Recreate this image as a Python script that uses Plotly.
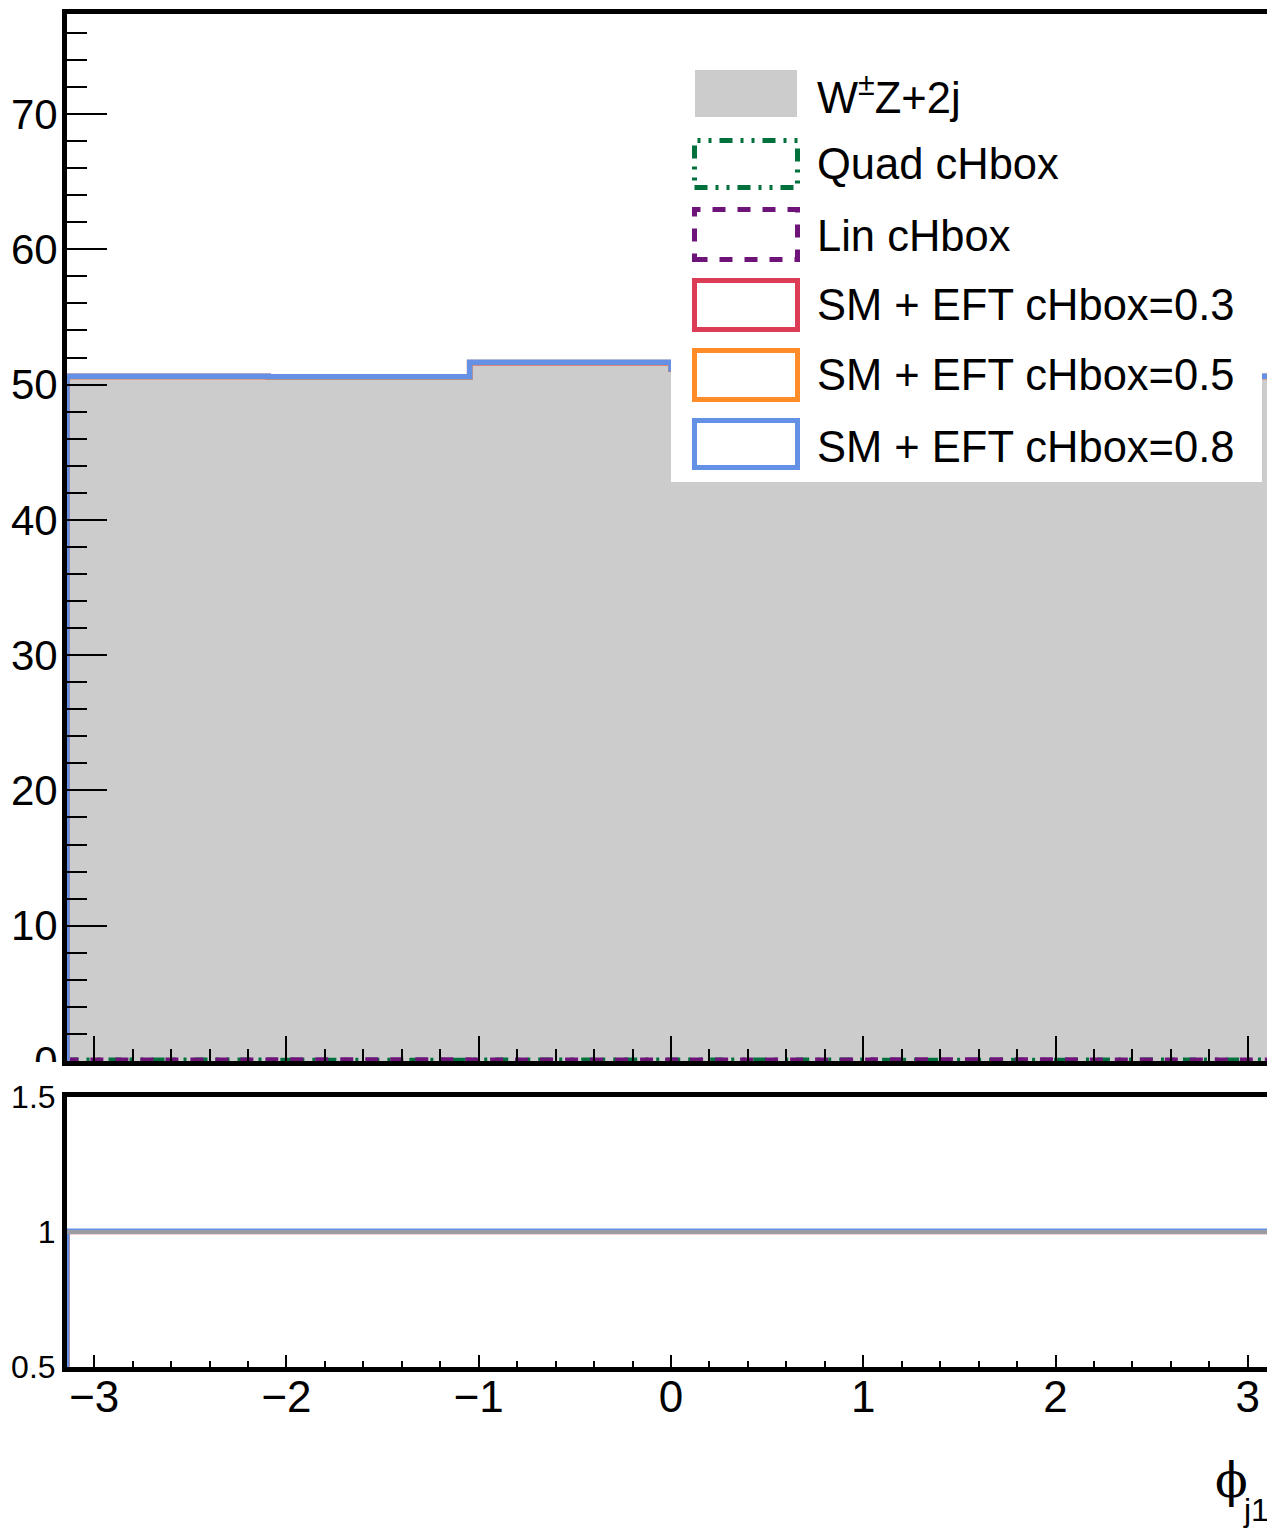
import numpy as np
import plotly.graph_objects as go

# ---------------- data ----------------
bin_edges = list(np.linspace(-np.pi, np.pi, 7))
sm_wz2j = [50.45, 50.40, 51.48, 51.00, 50.70, 50.45]
quad_chbox = [0.11, 0.10, 0.11, 0.11, 0.10, 0.11]
lin_chbox = [0.12, 0.13, 0.12, 0.12, 0.13, 0.12]
eft_03 = [50.59, 50.54, 51.62, 51.14, 50.84, 50.59]
eft_05 = [50.60, 50.55, 51.63, 51.15, 50.85, 50.60]
eft_08 = [50.62, 50.57, 51.65, 51.17, 50.87, 50.62]
ratio_03 = [1.0010, 1.0010, 1.0010, 1.0010, 1.0010, 1.0010]
ratio_05 = [1.0017, 1.0018, 1.0017, 1.0017, 1.0018, 1.0017]
ratio_08 = [1.0033, 1.0034, 1.0033, 1.0033, 1.0034, 1.0033]

legend_labels = ["W<sup>±</sup>Z+2j", "Quad cHbox", "Lin cHbox",
                 "SM + EFT cHbox=0.3", "SM + EFT cHbox=0.5", "SM + EFT cHbox=0.8"]

# ---------------- style ----------------
C_GRAY = "#cccccc"
C_GREEN = "#00703c"
C_PURPLE = "#6e1478"
C_RED = "#dc3c55"
C_ORANGE = "#ff8c28"
C_BLUE = "#6491e6"
FONT = "Liberation Sans"

OFF = 8  # page body margin of the browser
W, H = 1275 - OFF, 1539 - 2 * OFF
L, R, T, B = 67 - OFF, 0, 14 - OFF, 164
PW, PH = W - L - R, H - T - B


def px_x(px):
    return (px - OFF - L) / PW


def px_y(py):
    return (H - B - (py - OFF)) / PH


def step(vals, base):
    xs = [bin_edges[0]] + bin_edges[:-1] + [bin_edges[-1], bin_edges[-1]]
    ys = [base] + list(vals) + [vals[-1], base]
    return xs, ys


fig = go.Figure()

# top panel
fig.add_trace(go.Scatter(x=bin_edges, y=sm_wz2j + [sm_wz2j[-1]], mode="lines",
                         line=dict(shape="hv", width=0, color=C_GRAY),
                         fill="tozeroy", fillcolor=C_GRAY, xaxis="x", yaxis="y"))
for vals, col, dash, w in [(quad_chbox, C_GREEN, "13px,8px,3px,8px,3px,8px", 4),
                           (lin_chbox, C_PURPLE, "13px,12px", 4),
                           (eft_03, C_RED, "solid", 5.5),
                           (eft_05, C_ORANGE, "solid", 5.5),
                           (eft_08, C_BLUE, "solid", 5.5)]:
    xs, ys = step(vals, 0)
    fig.add_trace(go.Scatter(x=xs, y=ys, mode="lines",
                             line=dict(shape="hv", width=w, color=col, dash=dash),
                             xaxis="x", yaxis="y"))

# ratio panel
for vals, col in [(ratio_03, C_RED), (ratio_05, C_ORANGE), (ratio_08, C_BLUE)]:
    xs, ys = step(vals, 0.5)
    fig.add_trace(go.Scatter(x=xs, y=ys, mode="lines",
                             line=dict(shape="hv", width=5, color=col),
                             xaxis="x2", yaxis="y2"))

top_lo = px_y(1061)
bot_hi = px_y(1097)
y_top_max = (1061 - 14) * 70 / (1061 - 114)

axis_common = dict(showline=True, linecolor="black", linewidth=5, showgrid=False,
                   zeroline=False, ticks="inside", tickcolor="black", tickwidth=2,
                   automargin=False,
                   tickfont=dict(family=FONT, size=44, color="black"))

fig.update_layout(
    width=W, height=H, margin=dict(l=L, r=R, t=T, b=B, pad=0, autoexpand=False),
    paper_bgcolor="white", plot_bgcolor="white", showlegend=False,
    xaxis=dict(axis_common, domain=[0, 1], anchor="y", range=[-np.pi, np.pi],
               dtick=1, tick0=0, ticklen=25, showticklabels=False, mirror=True,
               minor=dict(dtick=0.2, tick0=0, ticklen=12, tickwidth=2,
                          ticks="inside", tickcolor="black", showgrid=False)),
    yaxis=dict(axis_common, domain=[top_lo, 1], anchor="x", range=[0, y_top_max],
               dtick=10, tick0=0, ticklen=40, ticklabelstandoff=-4,
               tickfont=dict(family=FONT, size=42, color="black"),
               minor=dict(dtick=2, tick0=0, ticklen=20, tickwidth=2,
                          ticks="inside", tickcolor="black", showgrid=False)),
    xaxis2=dict(axis_common, domain=[0, 1], anchor="y2", range=[-np.pi, np.pi],
                dtick=1, tick0=0, ticklen=12, mirror=True, ticklabelstandoff=-13,
                minor=dict(dtick=0.2, tick0=0, ticklen=6, tickwidth=2,
                           ticks="inside", tickcolor="black", showgrid=False)),
    yaxis2=dict(axis_common, domain=[0, bot_hi], anchor="x2", range=[0.5, 1.5],
                ticks="", tickvals=[0.5, 1, 1.5], ticktext=["0.5", "1", "1.5"],
                tickfont=dict(family=FONT, size=32, color="black")),
)

shapes = []
# reference line at ratio 1
shapes.append(dict(type="line", xref="x2", yref="y2", x0=bin_edges[0], x1=bin_edges[-1],
                   y0=1, y1=1, line=dict(color="#9a9ca4", width=4), layer="above"))
# clip the "0" label like the ROOT pad edge
shapes.append(dict(type="rect", xref="paper", yref="paper", x0=px_x(OFF), x1=px_x(61),
                   y0=px_y(1084), y1=px_y(1062), fillcolor="white",
                   line=dict(width=0), layer="above"))
# legend box
shapes.append(dict(type="rect", xref="paper", yref="paper", x0=px_x(671), x1=px_x(1262),
                   y0=px_y(482), y1=px_y(50), fillcolor="white",
                   line=dict(width=0), layer="above"))
shapes.append(dict(type="rect", xref="paper", yref="paper", x0=px_x(695), x1=px_x(797),
                   y0=px_y(117), y1=px_y(70), fillcolor=C_GRAY,
                   line=dict(width=0), layer="above"))
swatches = [(140.5, 187.5, C_GREEN, "13px,8px,3px,8px,3px,8px"),
            (209.5, 259.5, C_PURPLE, "13px,12px"),
            (280.5, 329.5, C_RED, "solid"),
            (350.5, 399.5, C_ORANGE, "solid"),
            (420.5, 467.5, C_BLUE, "solid")]
for y0, y1, col, dash in swatches:
    shapes.append(dict(type="rect", xref="paper", yref="paper", x0=px_x(694.5), x1=px_x(797.5),
                       y0=px_y(y1), y1=px_y(y0), fillcolor="rgba(0,0,0,0)",
                       line=dict(color=col, width=5, dash=dash), layer="above"))
fig.update_layout(shapes=shapes)

ann = []
for lab, yc in zip(legend_labels, [95, 164, 236, 305, 375, 447]):
    ann.append(dict(text=lab, xref="paper", yref="paper", x=px_x(815), y=px_y(yc),
                    xanchor="left", yanchor="middle", showarrow=False,
                    font=dict(family=FONT, size=43.5, color="black")))
# axis title
ann.append(dict(text="ϕ", xref="paper", yref="paper", x=px_x(1231), y=px_y(1480),
                xanchor="center", yanchor="middle", showarrow=False,
                font=dict(family="DejaVu Serif", size=48, color="black")))
ann.append(dict(text="j1", xref="paper", yref="paper", x=px_x(1271), y=px_y(1510),
                xanchor="right", yanchor="middle", showarrow=False,
                font=dict(family=FONT, size=32, color="black")))
fig.update_layout(annotations=ann)

fig.write_html("out.html")
